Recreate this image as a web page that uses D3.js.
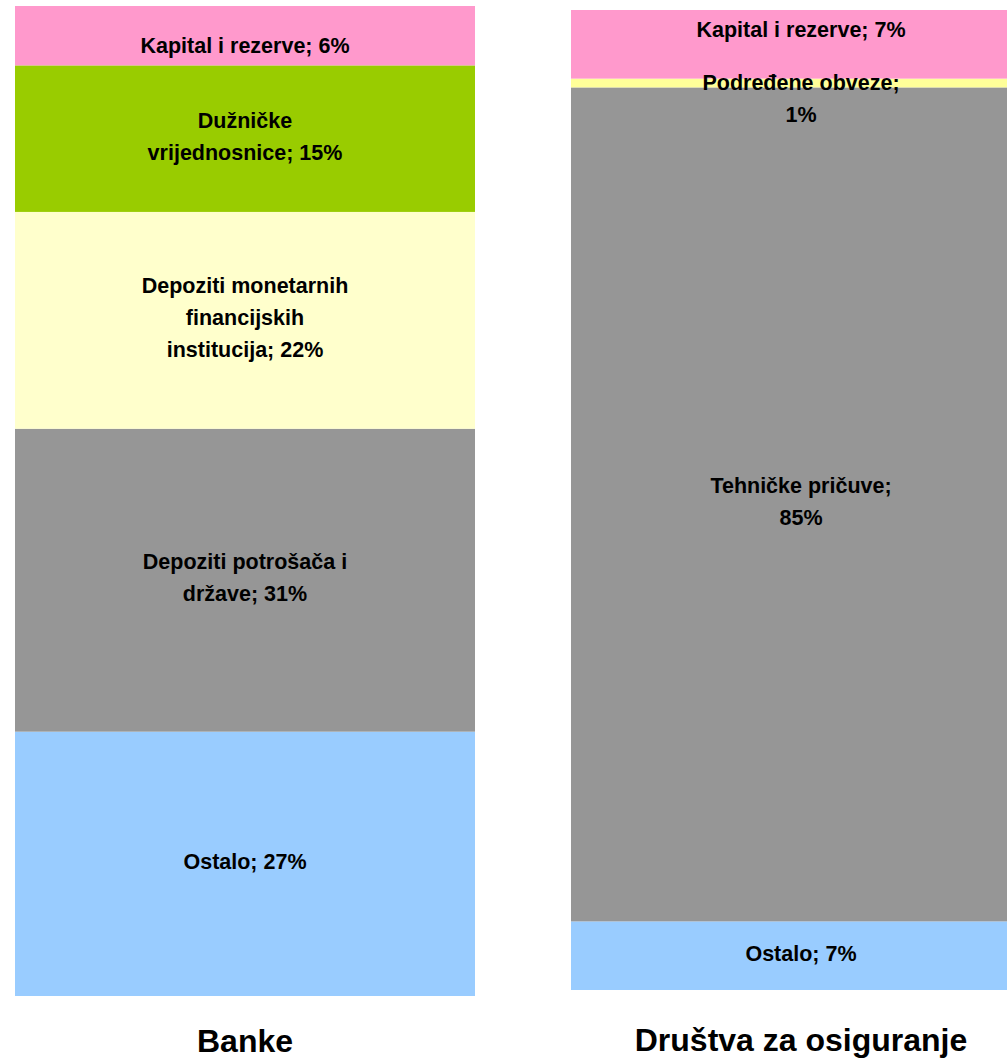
<!DOCTYPE html>
<html>
<head>
<meta charset="utf-8">
<script src="https://cdn.jsdelivr.net/npm/d3@7/dist/d3.min.js"></script>
<style>
  html, body { margin: 0; padding: 0; background: #fff; overflow: hidden; }
  svg { display: block; }
  text { font-family: "Liberation Sans", Arial, sans-serif; font-weight: bold; fill: #000; }
</style>
</head>
<body>
<svg id="chart" width="1007" height="1060"></svg>
<script>
// ---- data (stack order: bottom -> top) ----
const charts = ["Banke", "Društva za osiguranje"];

const bankCategories = ["Ostalo", "Depoziti potrošača i\ndržave", "Depoziti monetarnih\nfinancijskih\ninstitucija", "Dužničke\nvrijednosnice", "Kapital i rezerve"];
const bankValues = [26.7, 30.6, 21.9, 14.8, 6.0];
const bankSeparators = ["; ", "; ", "; ", "; ", "; "];

const insCategories = ["Ostalo", "Tehničke pričuve", "Podređene obveze", "Kapital i rezerve"];
const insValues = [7.0, 85.1, 0.9, 7.0];
const insSeparators = ["; ", ";\n", ";\n", "; "];

const bankColors = ["#99CCFF", "#969696", "#FFFFCC", "#99CC00", "#FF99CC"];
const insColors = ["#99CCFF", "#969696", "#FFFF99", "#FF99CC"];

// ---- layout ----
const svg = d3.select("#chart");
const x = d3.scaleBand().domain(charts).range([15, 1031]).paddingInner(96 / 556).paddingOuter(0);

const panels = [
  { name: charts[0], cats: bankCategories, vals: bankValues, seps: bankSeparators, colors: bankColors,
    yRange: [996, 6], titleY: 1052, nudges: [0, 0, 0, 0, 12] },
  { name: charts[1], cats: insCategories, vals: insValues, seps: insSeparators, colors: insColors,
    yRange: [990, 10], titleY: 1051, nudges: [0, 0, 18, -12] }
];

const fontSize = 21.5, lineH = 32;

panels.forEach(p => {
  const total = d3.sum(p.vals);
  const y = d3.scaleLinear().domain([0, total]).range(p.yRange);
  const stack = [];
  let acc = 0;
  p.vals.forEach((v, i) => { stack.push({ i, y0: acc, y1: acc + v, v }); acc += v; });

  const g = svg.append("g");
  g.selectAll("rect").data(stack).join("rect")
    .attr("x", x(p.name))
    .attr("width", x.bandwidth())
    .attr("y", d => y(d.y1))
    .attr("height", d => y(d.y0) - y(d.y1))
    .attr("fill", d => p.colors[d.i]);

  const labels = g.selectAll("text.lbl").data(stack).join("text")
    .attr("class", "lbl")
    .attr("text-anchor", "middle")
    .style("font-size", fontSize + "px");
  labels.each(function(d) {
    const txt = p.cats[d.i] + p.seps[d.i] + Math.round(d.v) + "%";
    const lines = txt.split("\n");
    const cy = (y(d.y0) + y(d.y1)) / 2;
    const first = cy - (lines.length - 1) * lineH / 2 + 5 + p.nudges[d.i];
    const t = d3.select(this);
    lines.forEach((ln, k) => {
      t.append("tspan")
        .attr("x", x(p.name) + x.bandwidth() / 2)
        .attr("y", first + k * lineH)
        .text(ln);
    });
  });

  svg.append("text")
    .attr("x", x(p.name) + x.bandwidth() / 2)
    .attr("y", p.titleY)
    .attr("text-anchor", "middle")
    .style("font-size", "32px")
    .text(p.name);
});
</script>
</body>
</html>
